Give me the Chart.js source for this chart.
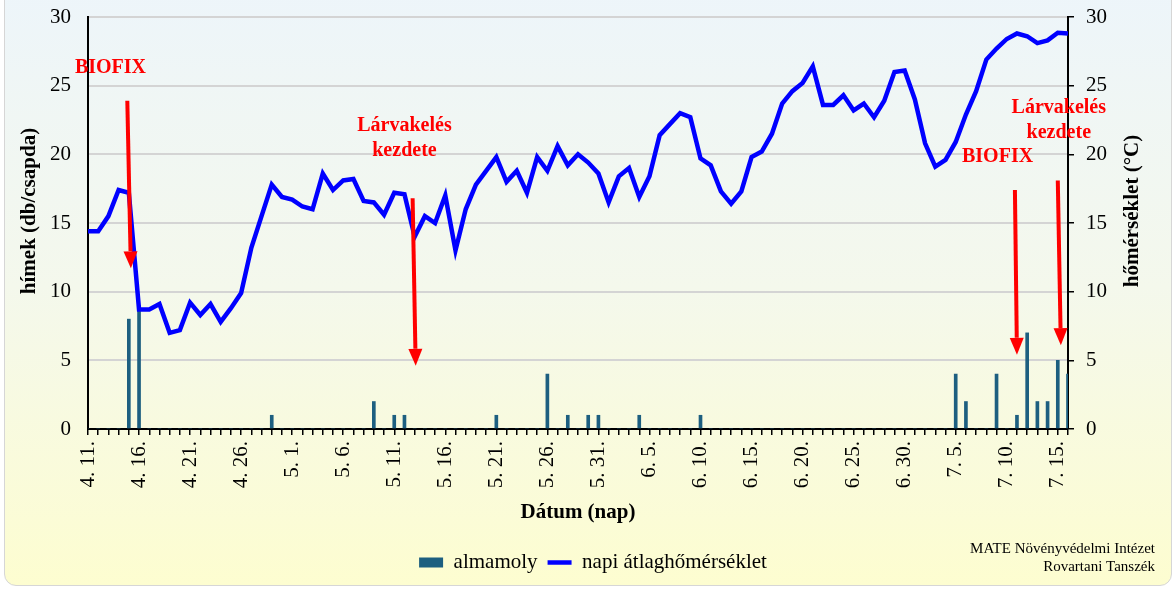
<!DOCTYPE html>
<html>
<head>
<meta charset="utf-8">
<script src="https://cdn.jsdelivr.net/npm/chart.js@4.4.1/dist/chart.umd.min.js"></script>
<style>
  html, body { margin: 0; padding: 0; background: #fff; }
  #frame {
    position: absolute; left: 4px; top: -12px; width: 1166px; height: 596px;
    border: 1px solid #d6d6d6; border-radius: 12px;
    background: linear-gradient(to bottom, #edf5fa 0%, #f4f8ec 50%, #fdfdd0 100%);
  }
  #wrap { position: absolute; left: 0; top: 0; width: 1176px; height: 590px; }
</style>
</head>
<body>
<div id="frame"></div>
<div id="wrap"><canvas id="myChart" width="1176" height="590"></canvas></div>
<script>
// dates 4.11 - 7.16, one per day
const dates = [
  '4. 11.', '4. 12.', '4. 13.', '4. 14.', '4. 15.', '4. 16.', '4. 17.', '4. 18.', '4. 19.', '4. 20.',
  '4. 21.', '4. 22.', '4. 23.', '4. 24.', '4. 25.', '4. 26.', '4. 27.', '4. 28.', '4. 29.', '4. 30.',
  '5. 1.', '5. 2.', '5. 3.', '5. 4.', '5. 5.', '5. 6.', '5. 7.', '5. 8.', '5. 9.', '5. 10.',
  '5. 11.', '5. 12.', '5. 13.', '5. 14.', '5. 15.', '5. 16.', '5. 17.', '5. 18.', '5. 19.', '5. 20.',
  '5. 21.', '5. 22.', '5. 23.', '5. 24.', '5. 25.', '5. 26.', '5. 27.', '5. 28.', '5. 29.', '5. 30.', '5. 31.',
  '6. 1.', '6. 2.', '6. 3.', '6. 4.', '6. 5.', '6. 6.', '6. 7.', '6. 8.', '6. 9.', '6. 10.',
  '6. 11.', '6. 12.', '6. 13.', '6. 14.', '6. 15.', '6. 16.', '6. 17.', '6. 18.', '6. 19.', '6. 20.',
  '6. 21.', '6. 22.', '6. 23.', '6. 24.', '6. 25.', '6. 26.', '6. 27.', '6. 28.', '6. 29.', '6. 30.',
  '7. 1.', '7. 2.', '7. 3.', '7. 4.', '7. 5.', '7. 6.', '7. 7.', '7. 8.', '7. 9.', '7. 10.',
  '7. 11.', '7. 12.', '7. 13.', '7. 14.', '7. 15.', '7. 16.'
]

// almamoly catch (db/csapda)
const moths = [
  0, 0, 0, 0, 8, 9, 0, 0, 0, 0, 0, 0, 0, 0, 0, 0, 0, 0, 1, 0,
  0, 0, 0, 0, 0, 0, 0, 0, 2, 0, 1, 1, 0, 0, 0, 0, 0, 0, 0, 0, 1, 0, 0, 0, 0, 4, 0, 1, 0, 1, 1,
  0, 0, 0, 1, 0, 0, 0, 0, 0, 1, 0, 0, 0, 0, 0, 0, 0, 0, 0, 0, 0, 0, 0, 0, 0, 0, 0, 0, 0, 0,
  0, 0, 0, 0, 4, 2, 0, 0, 4, 0, 1, 7, 2, 2, 5, 4
]

// napi atlaghomerseklet (C)
const temps = [
  14.4, 14.4, 15.5, 17.4, 17.2, 8.7, 8.7, 9.1, 7.0, 7.2, 9.2, 8.3, 9.1, 7.8, 8.8, 9.9, 13.2, 15.5, 17.8, 16.9, 16.7,
  16.2, 16.0, 18.6, 17.4, 18.1, 18.2, 16.6, 16.5, 15.6, 17.2, 17.1, 14.0, 15.5, 15.0, 17.0, 13.0, 16.0, 17.8, 18.8,
  19.8, 18.0, 18.8, 17.2, 19.8, 18.8, 20.6, 19.2, 20.0, 19.4, 18.6, 16.5, 18.4, 19.0, 16.9, 18.4, 21.4, 22.2, 23.0, 22.7,
  19.7, 19.2, 17.3, 16.4, 17.3, 19.8, 20.2, 21.5, 23.7, 24.6, 25.2, 26.4, 23.6, 23.6, 24.3, 23.2, 23.7, 22.7, 23.9, 26.0,
  26.1, 24.0, 20.8, 19.1, 19.6, 20.9, 22.9, 24.6, 26.9, 27.7, 28.4, 28.8, 28.6, 28.1, 28.3, 28.85, 28.8
]

// red notes and arrows, in (day index, value) units
const notes = [
  { lines: ['BIOFIX'], at: [2.2, 26.3] },
  { lines: ['Lárvakelés', 'kezdete'], at: [31, 22.1] },
  { lines: ['BIOFIX'], at: [89.1, 19.8] },
  { lines: ['Lárvakelés', 'kezdete'], at: [95.1, 23.4] }
]
const arrows = [
  { from: [3.85, 23.9], to: [4.2, 11.7] },
  { from: [31.8, 16.8], to: [32.1, 4.6] },
  { from: [90.8, 17.4], to: [91.0, 5.4] },
  { from: [95.0, 18.1], to: [95.3, 6.1] }
]

const serif = '"Liberation Serif", "Times New Roman", serif'

const notesPlugin = {
  id: 'notes',
  afterDatasetsDraw(chart) {
    const { ctx, chartArea } = chart
    const x = chart.scales.x
    const y = chart.scales.y
    ctx.save()
    ctx.fillStyle = '#ff0000'
    ctx.strokeStyle = '#ff0000'
    ctx.lineWidth = 4
    arrows.forEach(a => {
      const x1 = x.getPixelForValue(a.from[0]), y1 = y.getPixelForValue(a.from[1])
      const x2 = x.getPixelForValue(a.to[0]), y2 = y.getPixelForValue(a.to[1])
      const ang = Math.atan2(y2 - y1, x2 - x1)
      const hl = 17, hw = 7
      const bx = x2 - hl * Math.cos(ang), by = y2 - hl * Math.sin(ang)
      ctx.beginPath()
      ctx.moveTo(x1, y1)
      ctx.lineTo(bx, by)
      ctx.stroke()
      ctx.beginPath()
      ctx.moveTo(x2, y2)
      ctx.lineTo(bx + hw * Math.sin(ang), by - hw * Math.cos(ang))
      ctx.lineTo(bx - hw * Math.sin(ang), by + hw * Math.cos(ang))
      ctx.closePath()
      ctx.fill()
    })
    ctx.font = 'bold 20px ' + serif
    ctx.textAlign = 'center'
    ctx.textBaseline = 'middle'
    notes.forEach(n => {
      const px = x.getPixelForValue(n.at[0])
      const py = y.getPixelForValue(n.at[1])
      n.lines.forEach((t, i) => ctx.fillText(t, px, py + i * 25))
    })

    // axis titles, both reading bottom to top
    ctx.fillStyle = '#000'
    ctx.font = 'bold 21px ' + serif
    const midY = (chartArea.top + chartArea.bottom) / 2 - 12
    ctx.translate(30, midY)
    ctx.rotate(-Math.PI / 2)
    ctx.fillText('hímek (db/csapda)', 0, 0)
    ctx.rotate(Math.PI / 2)
    ctx.translate(-30, -midY)
    ctx.translate(chartArea.right + 65, midY)
    ctx.rotate(-Math.PI / 2)
    ctx.fillText('hőmérséklet (°C)', 0, 0)
    ctx.restore()

    ctx.save()
    ctx.fillStyle = '#000'
    ctx.font = '15px ' + serif
    ctx.textAlign = 'right'
    ctx.textBaseline = 'middle'
    ctx.fillText('MATE Növényvédelmi Intézet', chart.width - 21, 549)
    ctx.fillText('Rovartani Tanszék', chart.width - 21, 567)
    ctx.restore()
  }
}

const ctx = document.getElementById('myChart').getContext('2d')
const myChart = new Chart(ctx, {
  data: {
    labels: dates,
    datasets: [{
      type: 'bar',
      label: 'almamoly',
      data: moths,
      yAxisID: 'y',
      backgroundColor: '#1d5f80',
      barThickness: 3,
      pointStyle: 'rect',
      order: 2
    }, {
      type: 'line',
      label: 'napi átlaghőmérséklet',
      data: temps,
      yAxisID: 'y1',
      borderColor: '#0000ff',
      backgroundColor: '#0000ff',
      borderWidth: 4.5,
      pointRadius: 0,
      tension: 0,
      pointStyle: 'line',
      order: 1
    }]
  },
  options: {
    responsive: false,
    animation: false,
    layout: {
      padding: { top: 0, left: 10, right: 0, bottom: 7 }
    },
    plugins: {
      tooltip: { enabled: false },
      legend: {
        position: 'bottom',
        labels: {
          usePointStyle: true,
          pointStyleWidth: 24,
          boxHeight: 10,
          padding: 10,
          color: '#000',
          font: { family: serif, size: 21 },
          sort: (a, b) => a.datasetIndex - b.datasetIndex
        }
      }
    },
    scales: {
      x: {
        offset: false,
        grid: {
          offset: false,
          drawOnChartArea: false,
          drawTicks: true,
          tickLength: 6,
          color: '#000',
          lineWidth: 1.5
        },
        border: { color: '#000', width: 2 },
        ticks: {
          autoSkip: false,
          maxRotation: 90,
          minRotation: 90,
          padding: 6,
          color: '#000',
          font: { family: serif, size: 21 },
          callback: function (v, i) { return i % 5 === 0 ? this.getLabelForValue(v) : '' }
        },
        title: {
          display: true,
          text: 'Dátum (nap)',
          color: '#000',
          font: { family: serif, size: 21, weight: 'bold' },
          padding: { top: 8, bottom: 17 }
        },
        afterFit: s => { s.height = 113 }
      },
      y: {
        position: 'left',
        min: 0,
        max: 30,
        ticks: {
          stepSize: 5,
          padding: 17,
          color: '#000',
          font: { family: serif, size: 21, lineHeight: 0 }
        },
        grid: { color: '#d4d4d4', lineWidth: 2, drawTicks: false },
        border: { color: '#000', width: 2 },
        afterFit: s => { s.width = 78 }
      },
      y1: {
        position: 'right',
        min: 0,
        max: 30,
        ticks: {
          stepSize: 5,
          padding: 12,
          color: '#000',
          font: { family: serif, size: 21, lineHeight: 0 }
        },
        grid: {
          drawOnChartArea: false,
          drawTicks: true,
          tickLength: 6,
          color: '#000',
          lineWidth: 1.5
        },
        border: { color: '#000', width: 2 },
        afterFit: s => { s.width = 108 }
      }
    }
  },
  plugins: [notesPlugin]
})
</script>
</body>
</html>
